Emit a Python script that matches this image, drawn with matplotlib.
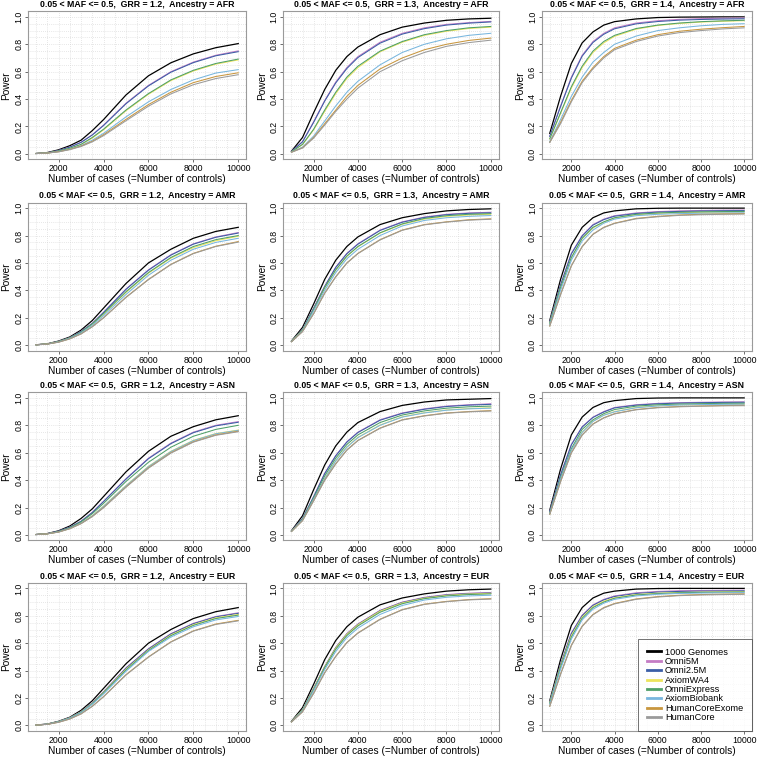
import matplotlib
matplotlib.use("Agg")
import matplotlib.pyplot as plt

plt.rcParams['font.family'] = ['Liberation Sans', 'DejaVu Sans']

# sample sizes (cases = controls) where the curves were read
XS = [1000, 1500, 2000, 2500, 3000, 3500, 4000, 5000, 6000, 7000, 8000, 9000, 10000]

SERIES = ["1000 Genomes", "Omni5M", "Omni2.5M", "AxiomWA4", "OmniExpress",
          "AxiomBiobank", "HumanCoreExome", "HumanCore"]
COLORS = ["#000000", "#c47cc4", "#3b5ea6", "#ece45c", "#4e9f68",
          "#78b6de", "#c8963e", "#9a9a9a"]

ANCESTRIES = ["AFR", "AMR", "ASN", "EUR"]
GRRS = ["1.2", "1.3", "1.4"]

afr_12 = [
    [0.003, 0.010, 0.030, 0.060, 0.100, 0.170, 0.250, 0.430, 0.570, 0.665, 0.730, 0.775, 0.805],
    [0.003, 0.008, 0.025, 0.050, 0.085, 0.140, 0.210, 0.370, 0.500, 0.600, 0.670, 0.720, 0.752],
    [0.003, 0.008, 0.025, 0.049, 0.084, 0.138, 0.207, 0.366, 0.496, 0.596, 0.666, 0.716, 0.746],
    [0.003, 0.007, 0.020, 0.040, 0.068, 0.115, 0.175, 0.315, 0.435, 0.535, 0.605, 0.655, 0.686],
    [0.003, 0.007, 0.021, 0.041, 0.070, 0.120, 0.180, 0.320, 0.440, 0.540, 0.610, 0.660, 0.692],
    [0.003, 0.006, 0.017, 0.035, 0.060, 0.100, 0.150, 0.270, 0.380, 0.470, 0.540, 0.590, 0.615],
    [0.003, 0.006, 0.016, 0.033, 0.057, 0.092, 0.140, 0.252, 0.360, 0.450, 0.520, 0.565, 0.592],
    [0.003, 0.006, 0.015, 0.031, 0.054, 0.088, 0.133, 0.242, 0.348, 0.438, 0.505, 0.550, 0.578],
]
afr_13 = [
    [0.020, 0.120, 0.300, 0.470, 0.610, 0.710, 0.780, 0.870, 0.925, 0.955, 0.975, 0.985, 0.990],
    [0.018, 0.090, 0.235, 0.390, 0.525, 0.630, 0.710, 0.815, 0.880, 0.920, 0.945, 0.958, 0.967],
    [0.018, 0.088, 0.230, 0.385, 0.518, 0.623, 0.703, 0.808, 0.874, 0.914, 0.940, 0.954, 0.963],
    [0.015, 0.068, 0.175, 0.310, 0.440, 0.550, 0.630, 0.745, 0.815, 0.865, 0.895, 0.915, 0.925],
    [0.015, 0.070, 0.180, 0.320, 0.450, 0.560, 0.640, 0.750, 0.820, 0.870, 0.900, 0.920, 0.930],
    [0.013, 0.050, 0.130, 0.240, 0.350, 0.450, 0.530, 0.650, 0.740, 0.800, 0.840, 0.865, 0.880],
    [0.012, 0.045, 0.120, 0.220, 0.320, 0.420, 0.500, 0.620, 0.700, 0.760, 0.800, 0.828, 0.845],
    [0.012, 0.043, 0.115, 0.210, 0.310, 0.400, 0.480, 0.600, 0.680, 0.740, 0.785, 0.812, 0.830],
]
afr_14 = [
    [0.150, 0.420, 0.660, 0.810, 0.890, 0.940, 0.965, 0.985, 0.995, 0.998, 0.999, 1.000, 1.000],
    [0.130, 0.350, 0.560, 0.720, 0.820, 0.880, 0.920, 0.955, 0.972, 0.982, 0.987, 0.990, 0.992],
    [0.128, 0.345, 0.553, 0.713, 0.813, 0.873, 0.913, 0.949, 0.966, 0.976, 0.981, 0.984, 0.986],
    [0.110, 0.295, 0.480, 0.630, 0.740, 0.810, 0.858, 0.910, 0.937, 0.952, 0.962, 0.968, 0.972],
    [0.110, 0.300, 0.490, 0.640, 0.750, 0.820, 0.865, 0.915, 0.940, 0.955, 0.965, 0.971, 0.975],
    [0.090, 0.250, 0.420, 0.560, 0.670, 0.740, 0.800, 0.860, 0.900, 0.920, 0.935, 0.945, 0.950],
    [0.085, 0.230, 0.390, 0.530, 0.630, 0.710, 0.770, 0.830, 0.870, 0.895, 0.910, 0.921, 0.930],
    [0.083, 0.220, 0.380, 0.520, 0.620, 0.700, 0.760, 0.820, 0.860, 0.885, 0.900, 0.912, 0.920],
]
amr_12 = [
    [0.003, 0.010, 0.030, 0.060, 0.110, 0.180, 0.270, 0.450, 0.600, 0.700, 0.780, 0.830, 0.860],
    [0.003, 0.009, 0.027, 0.055, 0.100, 0.160, 0.240, 0.410, 0.550, 0.660, 0.740, 0.790, 0.822],
    [0.003, 0.009, 0.027, 0.054, 0.099, 0.158, 0.238, 0.407, 0.547, 0.657, 0.737, 0.787, 0.818],
    [0.003, 0.009, 0.025, 0.052, 0.093, 0.152, 0.226, 0.385, 0.525, 0.635, 0.712, 0.762, 0.795],
    [0.003, 0.009, 0.026, 0.053, 0.095, 0.155, 0.230, 0.390, 0.530, 0.640, 0.720, 0.770, 0.800],
    [0.003, 0.008, 0.024, 0.050, 0.090, 0.145, 0.215, 0.370, 0.510, 0.620, 0.700, 0.750, 0.780],
    [0.003, 0.008, 0.022, 0.046, 0.083, 0.135, 0.200, 0.350, 0.480, 0.590, 0.670, 0.722, 0.756],
    [0.003, 0.008, 0.022, 0.046, 0.082, 0.134, 0.199, 0.348, 0.478, 0.588, 0.668, 0.720, 0.752],
]
amr_13 = [
    [0.030, 0.130, 0.300, 0.480, 0.620, 0.720, 0.790, 0.880, 0.930, 0.960, 0.980, 0.990, 0.995],
    [0.028, 0.115, 0.270, 0.430, 0.570, 0.670, 0.740, 0.840, 0.900, 0.935, 0.955, 0.965, 0.970],
    [0.028, 0.114, 0.268, 0.428, 0.567, 0.667, 0.737, 0.837, 0.897, 0.932, 0.952, 0.962, 0.966],
    [0.027, 0.109, 0.258, 0.418, 0.548, 0.648, 0.718, 0.818, 0.882, 0.920, 0.940, 0.950, 0.956],
    [0.027, 0.110, 0.260, 0.420, 0.550, 0.650, 0.720, 0.820, 0.885, 0.925, 0.945, 0.955, 0.960],
    [0.026, 0.105, 0.250, 0.400, 0.530, 0.630, 0.700, 0.800, 0.870, 0.910, 0.930, 0.940, 0.946],
    [0.025, 0.100, 0.230, 0.380, 0.500, 0.600, 0.670, 0.770, 0.840, 0.880, 0.900, 0.915, 0.922],
    [0.025, 0.099, 0.229, 0.378, 0.498, 0.598, 0.668, 0.768, 0.838, 0.878, 0.898, 0.912, 0.919],
]
amr_14 = [
    [0.180, 0.480, 0.730, 0.860, 0.930, 0.965, 0.980, 0.995, 0.999, 1.000, 1.000, 1.000, 1.000],
    [0.170, 0.440, 0.670, 0.800, 0.880, 0.920, 0.945, 0.965, 0.975, 0.980, 0.983, 0.985, 0.986],
    [0.170, 0.438, 0.666, 0.796, 0.876, 0.916, 0.941, 0.961, 0.971, 0.976, 0.979, 0.981, 0.982],
    [0.160, 0.418, 0.636, 0.776, 0.856, 0.896, 0.926, 0.951, 0.961, 0.966, 0.969, 0.971, 0.972],
    [0.160, 0.420, 0.640, 0.780, 0.860, 0.900, 0.930, 0.955, 0.965, 0.970, 0.973, 0.975, 0.976],
    [0.150, 0.400, 0.620, 0.760, 0.840, 0.890, 0.920, 0.945, 0.955, 0.960, 0.963, 0.965, 0.966],
    [0.140, 0.370, 0.580, 0.720, 0.810, 0.860, 0.890, 0.925, 0.940, 0.950, 0.955, 0.958, 0.960],
    [0.140, 0.368, 0.578, 0.718, 0.808, 0.858, 0.888, 0.922, 0.937, 0.947, 0.952, 0.955, 0.957],
]
asn_12 = [
    [0.003, 0.010, 0.030, 0.065, 0.120, 0.190, 0.280, 0.460, 0.610, 0.720, 0.790, 0.840, 0.870],
    [0.003, 0.009, 0.027, 0.057, 0.100, 0.165, 0.245, 0.410, 0.560, 0.670, 0.750, 0.800, 0.827],
    [0.003, 0.009, 0.027, 0.056, 0.099, 0.163, 0.243, 0.407, 0.556, 0.666, 0.746, 0.796, 0.822],
    [0.003, 0.008, 0.022, 0.048, 0.087, 0.140, 0.210, 0.360, 0.500, 0.610, 0.690, 0.740, 0.765],
    [0.003, 0.009, 0.025, 0.053, 0.095, 0.155, 0.230, 0.390, 0.530, 0.640, 0.720, 0.770, 0.800],
    [0.003, 0.008, 0.022, 0.048, 0.086, 0.139, 0.208, 0.358, 0.498, 0.608, 0.688, 0.738, 0.763],
    [0.003, 0.008, 0.021, 0.046, 0.083, 0.135, 0.200, 0.350, 0.490, 0.600, 0.680, 0.730, 0.757],
    [0.003, 0.008, 0.021, 0.045, 0.082, 0.134, 0.198, 0.348, 0.487, 0.597, 0.677, 0.727, 0.753],
]
asn_13 = [
    [0.030, 0.140, 0.330, 0.510, 0.650, 0.750, 0.820, 0.900, 0.945, 0.970, 0.985, 0.990, 0.995],
    [0.028, 0.120, 0.280, 0.450, 0.580, 0.680, 0.750, 0.840, 0.890, 0.920, 0.940, 0.950, 0.957],
    [0.028, 0.119, 0.278, 0.447, 0.577, 0.677, 0.747, 0.837, 0.887, 0.917, 0.937, 0.947, 0.953],
    [0.026, 0.110, 0.262, 0.412, 0.542, 0.642, 0.712, 0.802, 0.862, 0.892, 0.912, 0.922, 0.928],
    [0.027, 0.115, 0.270, 0.430, 0.560, 0.660, 0.730, 0.820, 0.875, 0.905, 0.925, 0.935, 0.940],
    [0.026, 0.110, 0.260, 0.410, 0.540, 0.640, 0.710, 0.800, 0.860, 0.890, 0.910, 0.920, 0.925],
    [0.025, 0.105, 0.250, 0.400, 0.520, 0.620, 0.690, 0.780, 0.840, 0.870, 0.890, 0.900, 0.907],
    [0.025, 0.104, 0.248, 0.398, 0.518, 0.618, 0.688, 0.778, 0.838, 0.868, 0.888, 0.898, 0.904],
]
asn_14 = [
    [0.180, 0.480, 0.730, 0.860, 0.930, 0.965, 0.980, 0.995, 0.999, 1.000, 1.000, 1.000, 1.000],
    [0.170, 0.440, 0.660, 0.790, 0.860, 0.900, 0.930, 0.950, 0.960, 0.965, 0.968, 0.970, 0.971],
    [0.170, 0.438, 0.657, 0.787, 0.857, 0.897, 0.927, 0.947, 0.957, 0.962, 0.965, 0.967, 0.968],
    [0.155, 0.410, 0.620, 0.750, 0.830, 0.875, 0.900, 0.930, 0.943, 0.950, 0.953, 0.955, 0.956],
    [0.160, 0.420, 0.630, 0.770, 0.840, 0.885, 0.915, 0.940, 0.950, 0.955, 0.958, 0.960, 0.961],
    [0.155, 0.408, 0.618, 0.748, 0.828, 0.873, 0.898, 0.928, 0.941, 0.948, 0.951, 0.953, 0.954],
    [0.150, 0.390, 0.600, 0.730, 0.810, 0.855, 0.885, 0.915, 0.930, 0.937, 0.941, 0.944, 0.946],
    [0.150, 0.388, 0.598, 0.728, 0.808, 0.853, 0.883, 0.913, 0.928, 0.935, 0.939, 0.942, 0.943],
]
eur_12 = [
    [0.003, 0.010, 0.030, 0.060, 0.110, 0.180, 0.270, 0.450, 0.600, 0.700, 0.780, 0.830, 0.860],
    [0.003, 0.009, 0.028, 0.057, 0.100, 0.165, 0.245, 0.420, 0.560, 0.670, 0.745, 0.795, 0.822],
    [0.003, 0.009, 0.028, 0.056, 0.099, 0.163, 0.243, 0.417, 0.557, 0.667, 0.742, 0.792, 0.818],
    [0.003, 0.009, 0.027, 0.055, 0.098, 0.160, 0.240, 0.410, 0.550, 0.660, 0.735, 0.785, 0.810],
    [0.003, 0.009, 0.027, 0.054, 0.096, 0.158, 0.236, 0.405, 0.546, 0.655, 0.730, 0.780, 0.805],
    [0.003, 0.009, 0.026, 0.053, 0.094, 0.155, 0.230, 0.395, 0.540, 0.645, 0.720, 0.770, 0.795],
    [0.003, 0.008, 0.023, 0.047, 0.085, 0.140, 0.210, 0.370, 0.500, 0.610, 0.690, 0.740, 0.767],
    [0.003, 0.008, 0.023, 0.047, 0.084, 0.139, 0.209, 0.368, 0.498, 0.608, 0.688, 0.737, 0.763],
]
eur_13 = [
    [0.030, 0.130, 0.300, 0.480, 0.620, 0.720, 0.790, 0.880, 0.930, 0.960, 0.980, 0.990, 0.995],
    [0.028, 0.115, 0.270, 0.430, 0.570, 0.670, 0.740, 0.840, 0.900, 0.935, 0.955, 0.965, 0.970],
    [0.028, 0.114, 0.268, 0.428, 0.567, 0.667, 0.737, 0.837, 0.897, 0.932, 0.952, 0.962, 0.966],
    [0.028, 0.113, 0.266, 0.426, 0.564, 0.664, 0.734, 0.834, 0.894, 0.929, 0.949, 0.959, 0.964],
    [0.027, 0.111, 0.262, 0.422, 0.556, 0.656, 0.726, 0.826, 0.888, 0.925, 0.945, 0.955, 0.960],
    [0.026, 0.107, 0.254, 0.408, 0.540, 0.640, 0.710, 0.810, 0.875, 0.915, 0.935, 0.945, 0.950],
    [0.025, 0.100, 0.235, 0.385, 0.505, 0.605, 0.675, 0.775, 0.845, 0.885, 0.905, 0.918, 0.925],
    [0.025, 0.099, 0.233, 0.383, 0.503, 0.603, 0.673, 0.773, 0.843, 0.883, 0.903, 0.916, 0.922],
]
eur_14 = [
    [0.180, 0.480, 0.730, 0.860, 0.930, 0.965, 0.980, 0.995, 0.999, 1.000, 1.000, 1.000, 1.000],
    [0.170, 0.445, 0.675, 0.805, 0.880, 0.920, 0.945, 0.968, 0.978, 0.983, 0.985, 0.986, 0.987],
    [0.170, 0.442, 0.670, 0.800, 0.876, 0.916, 0.941, 0.963, 0.973, 0.978, 0.980, 0.981, 0.982],
    [0.165, 0.432, 0.655, 0.790, 0.866, 0.906, 0.932, 0.955, 0.965, 0.970, 0.973, 0.975, 0.976],
    [0.162, 0.425, 0.645, 0.782, 0.860, 0.900, 0.928, 0.952, 0.962, 0.968, 0.971, 0.973, 0.974],
    [0.155, 0.410, 0.630, 0.770, 0.848, 0.892, 0.920, 0.945, 0.957, 0.963, 0.966, 0.968, 0.969],
    [0.140, 0.375, 0.585, 0.725, 0.810, 0.860, 0.890, 0.923, 0.940, 0.950, 0.955, 0.958, 0.960],
    [0.140, 0.372, 0.582, 0.722, 0.807, 0.857, 0.887, 0.920, 0.937, 0.947, 0.952, 0.955, 0.957],
]

PANELS = [
    [afr_12, afr_13, afr_14],
    [amr_12, amr_13, amr_14],
    [asn_12, asn_13, asn_14],
    [eur_12, eur_13, eur_14],
]

fig = plt.figure(figsize=(7.58, 7.59), dpi=100)

lefts = [0.037, 0.374, 0.715]
widths = [0.288, 0.284, 0.277]
bottoms = [0.790, 0.538, 0.288, 0.037]
height = 0.195

for r, anc in enumerate(ANCESTRIES):
    for c, grr in enumerate(GRRS):
        ax = fig.add_axes([lefts[c], bottoms[r], widths[c], height])
        for k in range(len(SERIES)):
            lw = 0.9 if k == 0 else 0.75
            ax.plot(XS, PANELS[r][c][k], color=COLORS[k], lw=lw, label=SERIES[k], zorder=3)

        ax.set_xlim(640, 10360)
        ax.set_ylim(-0.04, 1.04)
        ax.set_xticks([2000, 4000, 6000, 8000, 10000])
        ax.set_yticks([0.0, 0.2, 0.4, 0.6, 0.8, 1.0])
        ax.set_yticklabels(["0.0", "0.2", "0.4", "0.6", "0.8", "1.0"], rotation=90, va="center")
        ax.set_xticks(range(1000, 10001, 500), minor=True)
        ax.set_yticks([i * 0.05 for i in range(21)], minor=True)
        ax.grid(True, which="both", color="#d0d0d0", lw=0.5, ls=(0, (1, 2)), zorder=0)
        ax.tick_params(which="minor", length=0)
        ax.tick_params(which="major", labelsize=6.3, length=2.5, width=0.6,
                       color="#555555", pad=1.0)
        for s in ax.spines.values():
            s.set_color("#9a9a9a")
            s.set_linewidth(0.8)

        ax.set_title("0.05 < MAF <= 0.5,  GRR = %s,  Ancestry = %s" % (grr, anc),
                     fontsize=6.3, fontweight="bold", pad=3)
        ax.set_xlabel("Number of cases (=Number of controls)", fontsize=7.3, labelpad=0.8)
        ax.set_ylabel("Power", fontsize=7.3, labelpad=2)

        if r == 3 and c == 2:
            leg = ax.legend(loc="lower right", fontsize=6.6, frameon=True, fancybox=False,
                            borderaxespad=0, handlelength=1.6, handletextpad=0.4,
                            labelspacing=0.04, borderpad=0.95)
            leg.get_frame().set_edgecolor("#333333")
            leg.get_frame().set_linewidth(0.6)
            for line in leg.get_lines():
                line.set_linewidth(2.0)

fig.savefig("out.png", dpi=100)
